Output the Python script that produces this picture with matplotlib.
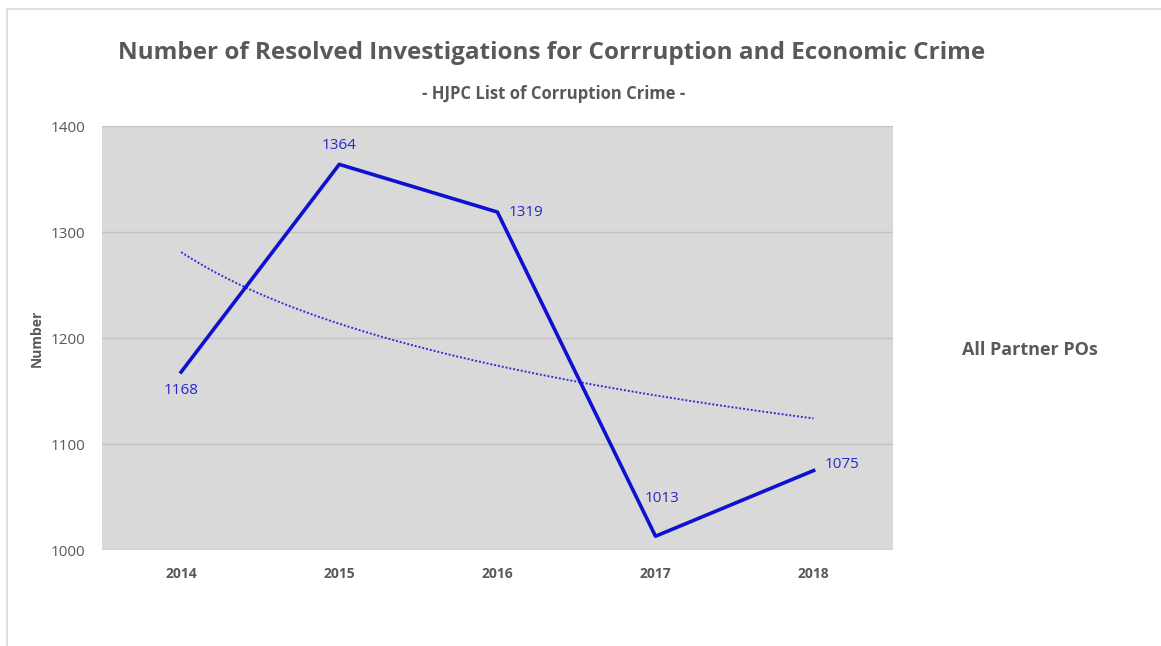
import numpy as np
import matplotlib.pyplot as plt
from matplotlib.patches import Rectangle

years = ["2014", "2015", "2016", "2017", "2018"]
resolved = [1168, 1364, 1319, 1013, 1075]

# label offsets in points (dx, dy, ha, va)
label_pos = [(0, -8, "center", "top"),
             (0, 8, "center", "bottom"),
             (8, 0, "left", "center"),
             (-8, 22, "left", "bottom"),
             (8, 4, "left", "center")]

plt.rcParams["font.family"] = ["Open Sans", "DejaVu Sans"]

fig = plt.figure(figsize=(11.61, 6.46), dpi=100)
fig.patches.append(Rectangle((0.006, -0.01), 1.0, 0.996, transform=fig.transFigure,
                             fill=False, edgecolor="#d9d9d9", linewidth=1.2))

ax = fig.add_axes([0.0879, 0.1486, 0.681, 0.656])
ax.set_facecolor("#d9d9d9")
x = np.arange(len(years))

ax.plot(x, resolved, color="#1010d0", linewidth=2.6, zorder=3)

# logarithmic trendline
b, a = np.polyfit(np.log(x + 1), resolved, 1)
xs = np.linspace(0, len(years) - 1, 100)
ax.plot(xs, a + b * np.log(xs + 1), color="#3030d8", linewidth=1.4,
        linestyle=(0, (1, 1)), zorder=2)

for xi, v, (dx, dy, ha, va) in zip(x, resolved, label_pos):
    ax.annotate(str(v), (xi, v), xytext=(dx, dy), textcoords="offset points",
                ha=ha, va=va, fontsize=11, color="#2828c8")

ax.set_xlim(-0.5, len(years) - 0.5)
ax.set_ylim(1000, 1400)
ax.set_yticks([1000, 1100, 1200, 1300, 1400])
ax.set_xticks(x)
ax.set_xticklabels(years, fontweight="bold")
ax.tick_params(axis="both", length=0, labelcolor="#595959")
ax.tick_params(axis="x", pad=12, labelsize=10)
ax.tick_params(axis="y", pad=12, labelsize=11)
ax.yaxis.grid(True, color="#c2c2c2", linewidth=1.0)
ax.set_axisbelow(True)
for s in ax.spines.values():
    s.set_visible(False)

ax.set_ylabel("Number", fontsize=10, fontweight="bold", color="#595959", labelpad=5)

fig.text(0.475, 0.918, "Number of Resolved Investigations for Corrruption and Economic Crime",
         ha="center", va="center", fontsize=17.5, fontweight="bold", color="#595959")
fig.text(0.477, 0.855, "- HJPC List of Corruption Crime -",
         ha="center", va="center", fontsize=12, fontweight="bold", color="#595959")
fig.text(0.887, 0.458, "All Partner POs", ha="center", va="center",
         fontsize=13, fontweight="bold", color="#595959")

fig.savefig("out.png", dpi=100)
